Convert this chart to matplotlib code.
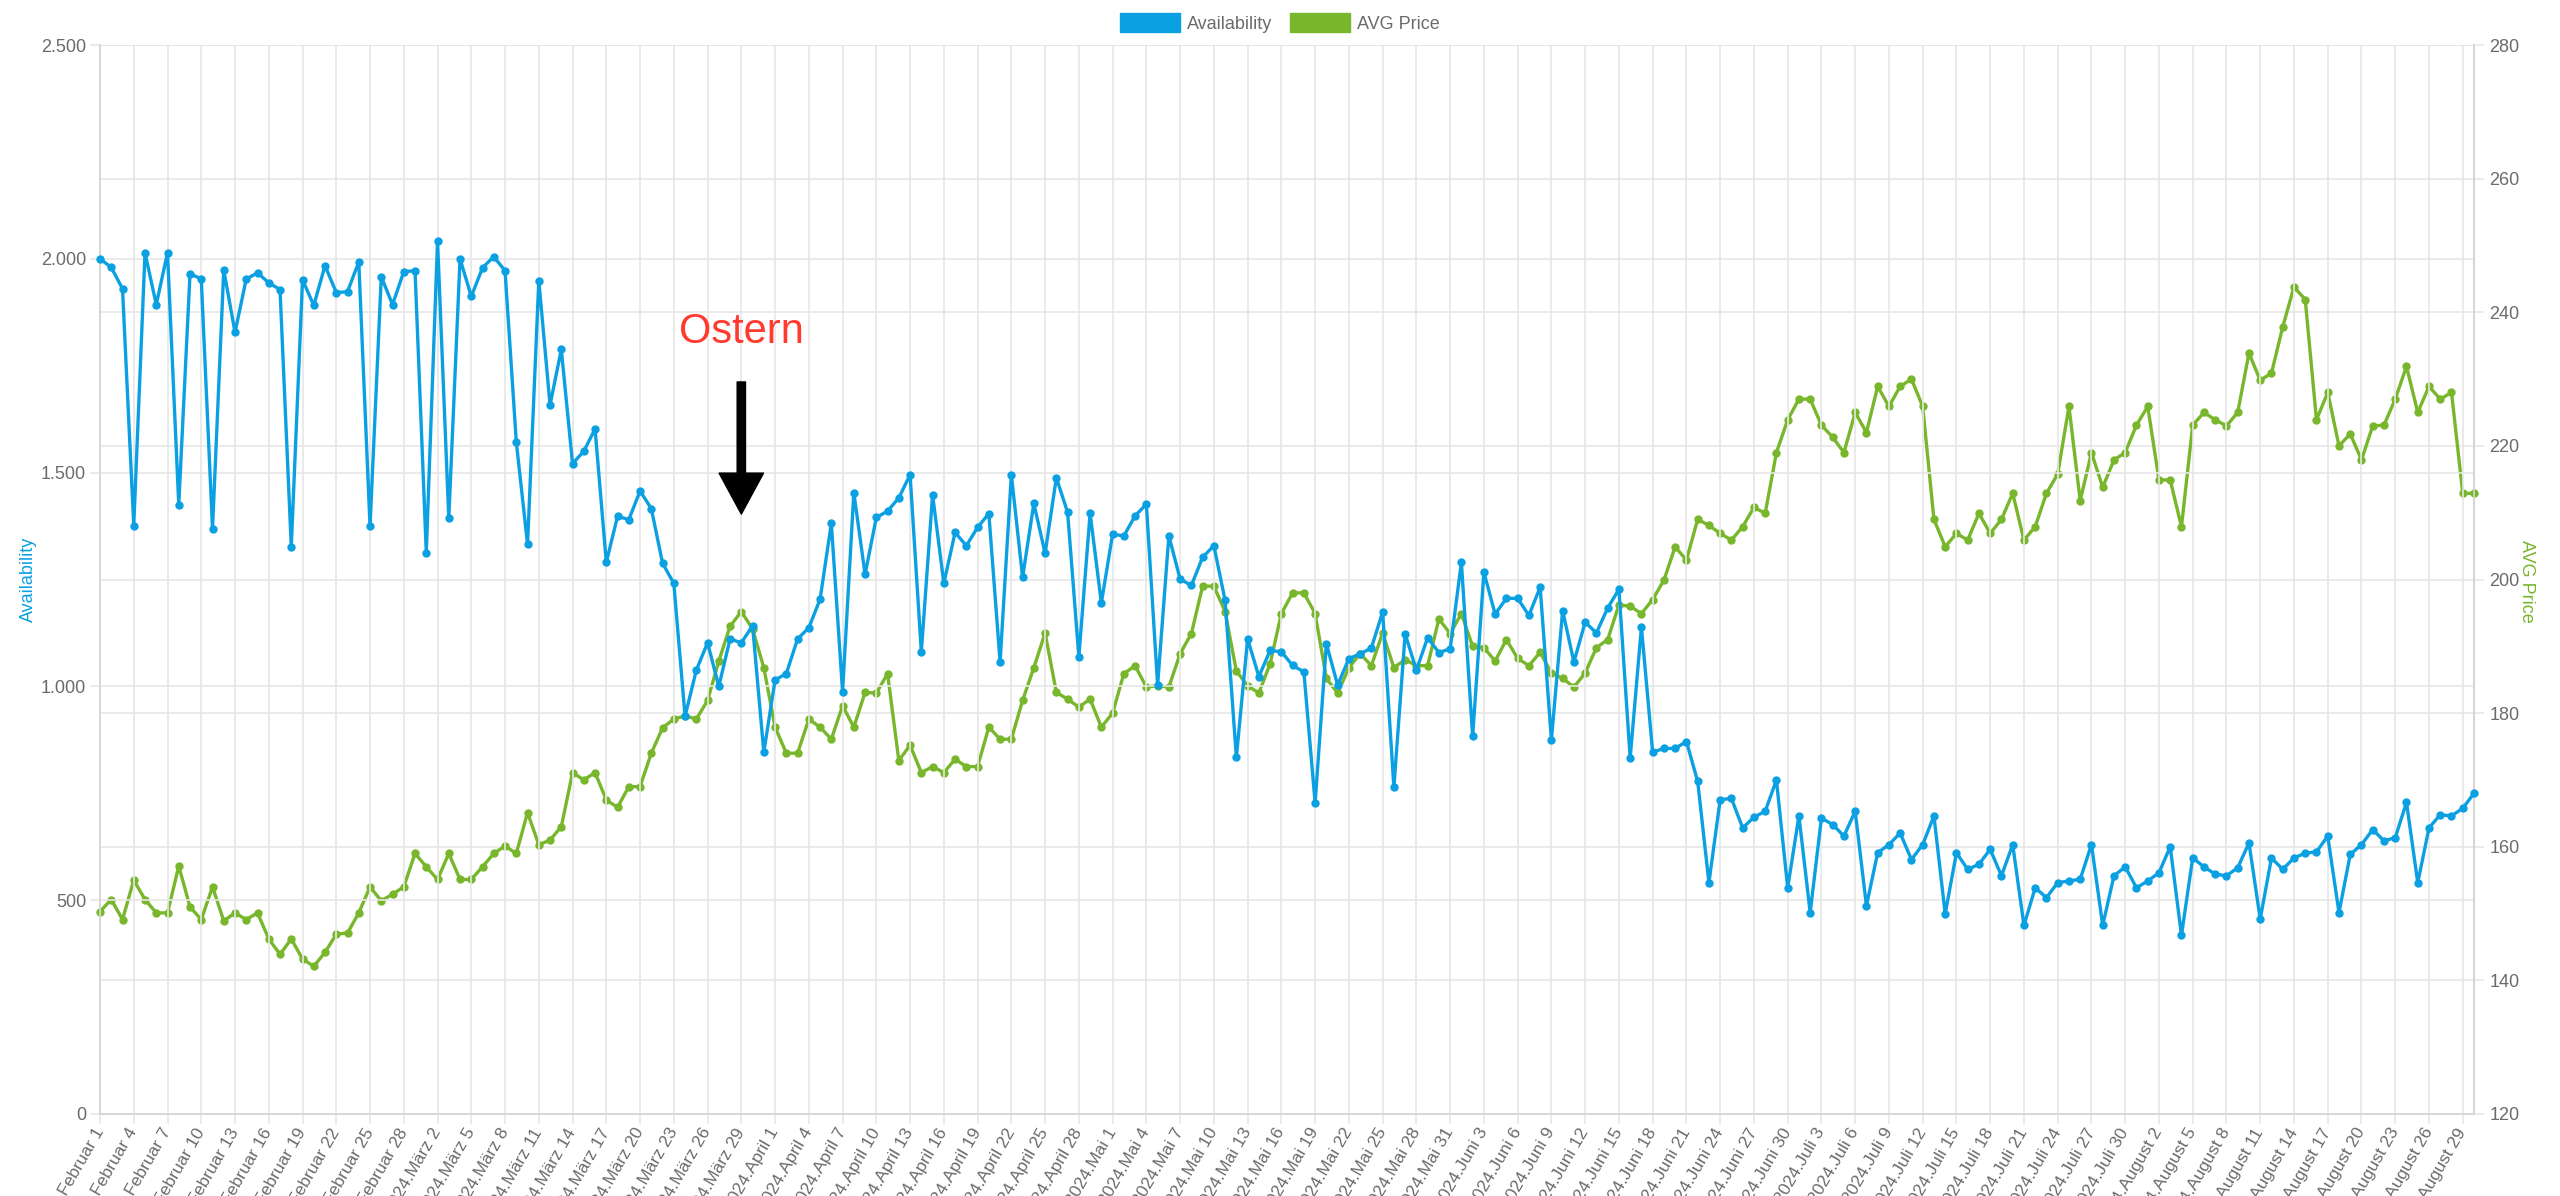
import numpy as np
import matplotlib
matplotlib.use("Agg")
import matplotlib.pyplot as plt
from matplotlib.patches import Patch

plt.rcParams['font.family'] = ['Liberation Sans Narrow', 'Liberation Sans', 'DejaVu Sans']

# Tageskategorien (1. Februar bis 30. August 2024)
months = ['Februar', 'März', 'April', 'Mai', 'Juni', 'Juli', 'August']
month_days = [29, 31, 30, 31, 30, 31, 30]
day_labels = [f"2024.{m} {d}" for m, n in zip(months, month_days) for d in range(1, n + 1)]

availability = [
    2000, 1980, 1930, 1376, 2014, 1893, 2014, 1425, 1965, 1953, 1369, 1974, 1828, 1953, 1967,
    1944, 1928, 1327, 1951, 1891, 1984, 1921, 1923, 1993, 1374, 1958, 1893, 1970, 1972, 1313,
    2042, 1393, 2000, 1912, 1979, 2005, 1972, 1572, 1332, 1949, 1658, 1788, 1521,
    1550, 1602, 1290, 1398, 1390, 1457, 1416, 1288, 1241, 930, 1038, 1102, 1000, 1111, 1102,
    1142, 846, 1015, 1030, 1111, 1137, 1204, 1381, 988, 1453, 1262, 1395, 1410, 1441, 1495,
    1081, 1448, 1241, 1360, 1329, 1372, 1404, 1057, 1495, 1255, 1428,
    1311, 1488, 1407, 1069, 1405, 1195, 1356, 1352, 1399, 1426, 1003, 1352, 1251, 1236, 1302,
    1329, 1201, 834, 1111, 1023, 1084, 1081, 1049, 1034, 727, 1100, 1003, 1065, 1076, 1090,
    1174, 764, 1123, 1038, 1114, 1079, 1088, 1290, 883, 1267, 1169, 1206,
    1206, 1166, 1232, 875, 1177, 1057, 1150, 1125, 1183, 1227, 832, 1139, 846, 855, 855,
    871, 778, 541, 735, 738, 669, 694, 708, 781, 529, 697, 471, 692, 677, 650,
    708, 487, 611, 630, 657, 595, 630, 697, 468, 611, 572, 584,
    619, 557, 630, 441, 529, 506, 541, 545, 549, 630, 441, 557, 578, 529, 545,
    564, 625, 418, 599, 578, 561, 557, 576, 634, 456, 599, 572, 599, 610, 613,
    650, 471, 607, 630, 665, 639, 646, 729, 541, 669, 700, 697, 715, 750,
]

avg_price = [
    150.3, 152.1, 149.1, 155.0, 152.1, 150.1, 150.1, 157.1, 151.0, 149.1, 154.0, 148.9, 150.1, 149.1, 150.1,
    146.2, 143.9, 146.2, 143.2, 142.1, 144.2, 146.9, 147.1, 150.1, 154.0, 151.9, 152.9, 154.0, 159.0, 157.0,
    155.1, 159.0, 155.1, 155.1, 157.0, 159.0, 160.1, 159.0, 165.1, 160.3, 161.0, 163.0, 171.1,
    170.0, 171.1, 167.0, 165.9, 169.0, 169.0, 174.0, 177.8, 179.1, 179.6, 179.1, 181.9, 187.8, 193.0, 195.2,
    192.6, 186.8, 177.9, 174.0, 174.0, 179.1, 177.9, 176.1, 181.1, 177.9, 183.1, 183.0, 185.9, 172.9, 175.2,
    171.1, 172.0, 171.1, 173.1, 172.0, 172.0, 177.9, 176.1, 176.1, 181.9, 186.8,
    192.0, 183.1, 182.1, 180.9, 182.1, 177.9, 180.0, 185.9, 187.1, 183.9, 184.1, 183.9, 188.9, 191.9, 199.0,
    199.0, 195.2, 186.3, 184.1, 183.0, 187.4, 194.9, 198.0, 198.0, 194.9, 185.2, 183.0, 186.8, 188.9, 187.1,
    192.0, 186.8, 188.0, 187.1, 187.1, 194.1, 191.9, 194.9, 190.0, 189.8, 187.8, 191.0,
    188.2, 187.1, 189.1, 186.0, 185.2, 183.9, 186.0, 189.8, 191.0, 196.2, 196.0, 194.9, 197.0, 199.9, 204.9,
    202.9, 209.0, 208.1, 206.9, 205.9, 207.9, 210.8, 209.9, 219.0, 223.9, 227.0, 227.0, 223.1, 221.3, 219.0,
    225.0, 222.0, 228.9, 225.9, 228.9, 230.0, 225.9, 209.0, 204.9, 206.9, 205.9, 209.9,
    206.9, 209.0, 212.9, 205.9, 207.9, 212.9, 215.8, 225.9, 211.8, 219.0, 213.8, 217.9, 219.0, 223.1, 225.9,
    214.9, 214.9, 207.9, 223.1, 225.0, 223.9, 223.0, 225.0, 233.9, 229.8, 230.9, 237.8, 243.8, 241.9, 223.9,
    228.0, 220.0, 221.8, 217.9, 223.0, 223.1, 227.0, 231.9, 225.0, 228.9, 227.0, 228.0, 212.9, 212.9,
]

left_ticks = [0, 500, 1000, 1500, 2000, 2500]
left_tick_labels = ['0', '500', '1.000', '1.500', '2.000', '2.500']
right_ticks = [120, 140, 160, 180, 200, 220, 240, 260, 280]

easter_day = 57  # Pfeil "Ostern"

BLUE = '#0aa0e2'
GREEN = '#78b62c'
GRID = '#e6e6e6'
TXT = '#6b6b6b'

x = np.arange(len(day_labels))

fig = plt.figure(figsize=(25.6, 11.96), dpi=100)
ax = fig.add_axes([100 / 2560, 1 - 1114 / 1196, 2374 / 2560, 1069 / 1196])
ax2 = ax.twinx()
ax.set_zorder(ax2.get_zorder() + 1)
ax.patch.set_visible(False)

ax.plot(x, availability, color=BLUE, lw=2.4, marker='o', ms=5, clip_on=False, zorder=3)
ax2.plot(x, avg_price, color=GREEN, lw=2.4, marker='o', ms=5, clip_on=False, zorder=3)

ax.set_xlim(0, len(x) - 1)
ax.set_ylim(0, 2500)
ax2.set_ylim(120, 280)

ax.set_xticks(x[::3])
ax.set_xticklabels(day_labels[::3], rotation=60, ha='right', va='center',
                   rotation_mode='anchor', fontsize=12.5, color=TXT)
ax.set_yticks(left_ticks)
ax.set_yticklabels(left_tick_labels, fontsize=13, color=TXT)
ax2.set_yticks(right_ticks)
ax2.set_yticklabels([str(t) for t in right_ticks], fontsize=13, color=TXT)

ax.set_axisbelow(True)
ax.grid(True, color=GRID, lw=1.2)
ax2.grid(True, axis='y', color=GRID, lw=1.2)
ax.tick_params(axis='both', length=7, width=1.2, color=GRID, pad=3)
ax.tick_params(axis='x', pad=4)
ax2.tick_params(axis='y', length=7, width=1.2, color=GRID, pad=4)

for a in (ax, ax2):
    for side in ('top', 'left', 'right', 'bottom'):
        a.spines[side].set_color('#d5d5d5')
        a.spines[side].set_linewidth(1.2)
    a.spines['top'].set_visible(False)

fig.text(28 / 2560, 1 - 579 / 1196, 'Availability', rotation=90, color=BLUE,
         fontsize=13, ha='center', va='center')
fig.text(2527 / 2560, 1 - 581 / 1196, 'AVG Price', rotation=270, color=GREEN,
         fontsize=13, ha='center', va='center')

handles = [Patch(facecolor=BLUE, edgecolor=BLUE), Patch(facecolor=GREEN, edgecolor=GREEN)]
fig.legend(handles, ['Availability', 'AVG Price'], loc='center', bbox_to_anchor=(0.5, 1 - 23 / 1196),
           ncol=2, frameon=False, fontsize=13, labelcolor=TXT, handlelength=3.3, handleheight=1.2,
           handletextpad=0.4, columnspacing=1.0)

ax.text(easter_day, 1829, 'Ostern', color='#ff3b30', fontsize=30, ha='center', va='center',
        family='Liberation Sans')
ax.annotate('', xy=(easter_day, 1403), xytext=(easter_day, 1712),
            arrowprops=dict(arrowstyle='simple,head_length=2.95,head_width=3.2,tail_width=0.6',
                            mutation_scale=10, color='black', shrinkA=0, shrinkB=0))

fig.savefig('out.png', dpi=100)
